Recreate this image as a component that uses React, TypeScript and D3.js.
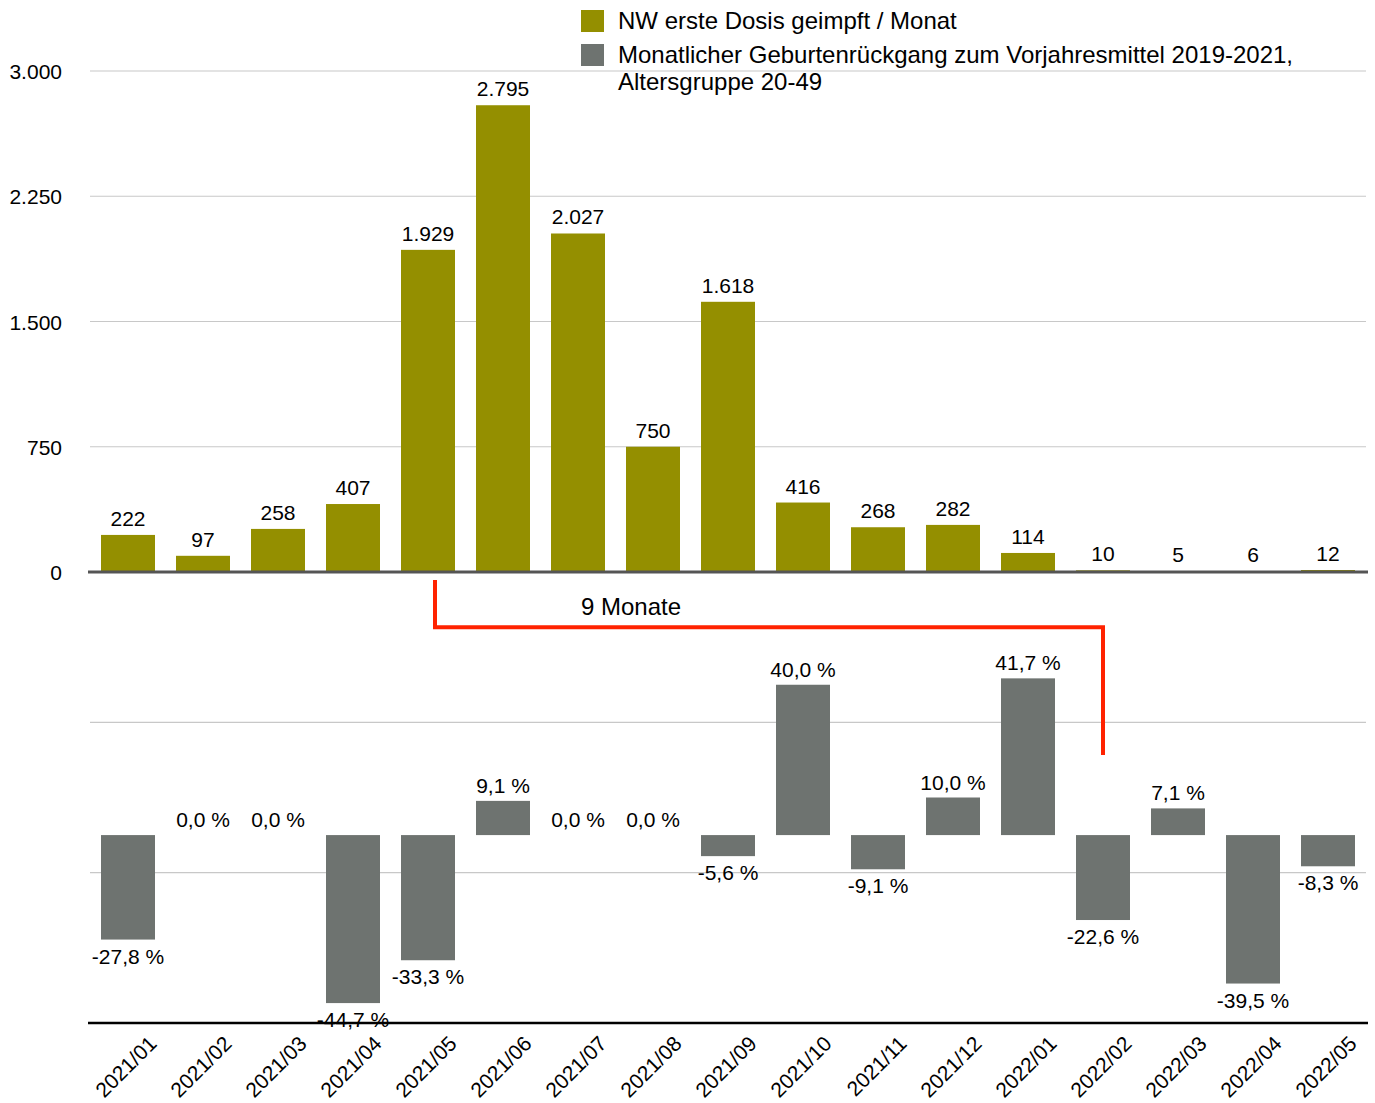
import React, { useEffect, useRef } from 'react';
import * as d3 from 'd3';

const months = [
  '2021/01', '2021/02', '2021/03', '2021/04', '2021/05', '2021/06', '2021/07', '2021/08', '2021/09',
  '2021/10', '2021/11', '2021/12', '2022/01', '2022/02', '2022/03', '2022/04', '2022/05',
];
const firstDose = [222, 97, 258, 407, 1929, 2795, 2027, 750, 1618, 416, 268, 282, 114, 10, 5, 6, 12];
const birthChange = [-27.8, 0.0, 0.0, -44.7, -33.3, 9.1, 0.0, 0.0, -5.6, 40.0, -9.1, 10.0, 41.7, -22.6, 7.1, -39.5, -8.3];
const doseTicks = [0, 750, 1500, 2250, 3000];
const pctGrid = [30, -10];
const legendItems = [
  { lines: ['NW erste Dosis geimpft / Monat'], color: '#948f00' },
  { lines: ['Monatlicher Geburtenrückgang zum Vorjahresmittel 2019-2021,', 'Altersgruppe 20-49'], color: '#6e7370' },
];
// annotation: from 2021/05 to 2022/02
const lagFrom = '2021/05';
const lagTo = '2022/02';
const lagLabel = '9 Monate';

const W = 1375;
const H = 1103;
const OLIVE = '#948f00';
const GRAY = '#6e7370';

const fmtInt = (v: number) => d3.format(',')(v).replace(/,/g, '.');
const fmtPct = (v: number) => v.toFixed(1).replace('.', ',') + ' %';

const App: React.FC = () => {
  const svgRef = useRef<SVGSVGElement>(null);

  useEffect(() => {
    if (!svgRef.current) return;
    const svg = d3.select(svgRef.current);
    svg.selectAll('*').remove();

    const x = d3.scaleBand<string>()
      .domain(months)
      .range([90.5, 1365.5])
      .paddingInner(0.28)
      .paddingOuter(0.14);
    const bw = x.bandwidth();
    const cx = (m: string) => (x(m) as number) + bw / 2;

    const y = d3.scaleLinear().domain([0, 3000]).range([572, 71]);
    const y2 = d3.scaleLinear().domain([-50, 70]).range([1023, 572]);

    // gridlines top
    svg.append('g')
      .selectAll('line')
      .data(doseTicks.filter(d => d > 0))
      .join('line')
      .attr('x1', 90).attr('x2', 1366)
      .attr('y1', d => y(d)).attr('y2', d => y(d))
      .attr('stroke', '#c8c8c8').attr('stroke-width', 1.2);

    // gridlines bottom
    svg.append('g')
      .selectAll('line')
      .data(pctGrid)
      .join('line')
      .attr('x1', 90).attr('x2', 1366)
      .attr('y1', d => y2(d)).attr('y2', d => y2(d))
      .attr('stroke', '#c8c8c8').attr('stroke-width', 1.2);

    // y tick labels
    svg.append('g')
      .selectAll('text')
      .data(doseTicks)
      .join('text')
      .attr('x', 62)
      .attr('y', d => y(d) + 8)
      .attr('text-anchor', 'end')
      .attr('font-size', 21)
      .text(d => fmtInt(d));

    // dose bars
    svg.append('g')
      .selectAll('rect')
      .data(firstDose)
      .join('rect')
      .attr('x', (d, i) => x(months[i]) as number)
      .attr('width', bw)
      .attr('y', d => y(d))
      .attr('height', d => y(0) - y(d))
      .attr('fill', OLIVE);

    svg.append('g')
      .selectAll('text')
      .data(firstDose)
      .join('text')
      .attr('x', (d, i) => cx(months[i]))
      .attr('y', d => y(d) - 9)
      .attr('text-anchor', 'middle')
      .attr('font-size', 21)
      .text(d => fmtInt(d));

    // birth bars
    svg.append('g')
      .selectAll('rect')
      .data(birthChange)
      .join('rect')
      .attr('x', (d, i) => x(months[i]) as number)
      .attr('width', bw)
      .attr('y', d => y2(Math.max(0, d)))
      .attr('height', d => Math.abs(y2(d) - y2(0)))
      .attr('fill', GRAY);

    svg.append('g')
      .selectAll('text')
      .data(birthChange)
      .join('text')
      .attr('x', (d, i) => cx(months[i]))
      .attr('y', d => d < 0 ? y2(d) + 24 : y2(d) - 8)
      .attr('text-anchor', 'middle')
      .attr('font-size', 21)
      .text(d => fmtPct(d));

    // zero line top and bottom axis
    svg.append('line')
      .attr('x1', 88).attr('x2', 1368)
      .attr('y1', y(0)).attr('y2', y(0))
      .attr('stroke', '#555').attr('stroke-width', 3);
    svg.append('line')
      .attr('x1', 88).attr('x2', 1368)
      .attr('y1', y2(-50)).attr('y2', y2(-50))
      .attr('stroke', '#000').attr('stroke-width', 2.5);

    // x labels
    svg.append('g')
      .selectAll('text')
      .data(months)
      .join('text')
      .attr('text-anchor', 'end')
      .attr('font-size', 21)
      .attr('transform', d => `translate(${cx(d) + 30},${1045}) rotate(-45)`)
      .text(d => d);

    // lag annotation
    const xa = cx(lagFrom) + 7;
    const xb = cx(lagTo);
    svg.append('path')
      .attr('d', d3.line()([[xa, 580], [xa, y2(55.3)], [xb, y2(55.3)], [xb, y2(21.3)]]) as string)
      .attr('fill', 'none')
      .attr('stroke', '#ff2200')
      .attr('stroke-width', 4);
    svg.append('text')
      .attr('x', 631)
      .attr('y', 615)
      .attr('text-anchor', 'middle')
      .attr('font-size', 24)
      .text(lagLabel);

    // legend
    const lg = svg.append('g')
      .selectAll('g')
      .data(legendItems)
      .join('g')
      .attr('transform', (d, i) => `translate(581,${10 + i * 34})`);
    lg.append('rect')
      .attr('width', 23).attr('height', 22)
      .attr('fill', d => d.color);
    lg.append('text')
      .attr('font-size', 24)
      .selectAll('tspan')
      .data(d => d.lines)
      .join('tspan')
      .attr('x', 37)
      .attr('y', (d, i) => 19 + i * 27)
      .text(d => d);
  }, []);

  return (
    <svg
      ref={svgRef}
      width={W}
      height={H}
      style={{ position: 'absolute', left: 0, top: 0, background: '#fff' }}
      fontFamily="'Liberation Sans', Arial, sans-serif"
      fill="#000"
    />
  );
};

export default App;
